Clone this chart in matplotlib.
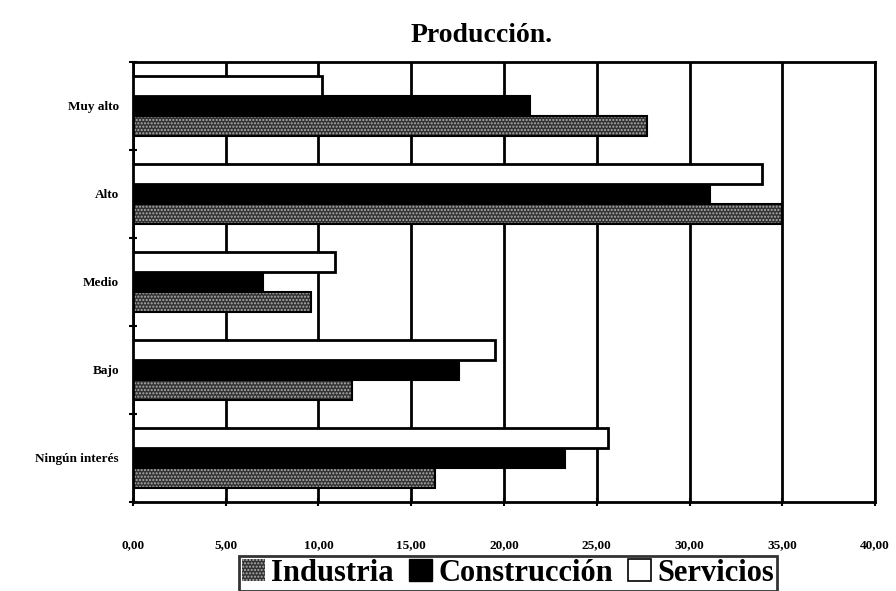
import matplotlib
matplotlib.use("Agg")
import matplotlib.pyplot as plt
import numpy as np
from matplotlib.patches import Patch

categories = ["Ningún interés", "Bajo", "Medio", "Alto", "Muy alto"]
industria = [16.3, 11.8, 9.6, 35.0, 27.7]
construccion = [23.3, 17.6, 7.0, 31.1, 21.4]
servicios = [25.6, 19.5, 10.9, 33.9, 10.2]
xticks = [0, 5, 10, 15, 20, 25, 30, 35, 40]
xticklabels = ["0,00", "5,00", "10,00", "15,00", "20,00", "25,00", "30,00", "35,00", "40,00"]

plt.rcParams['font.family'] = ['Liberation Serif', 'DejaVu Serif']
plt.rcParams['font.weight'] = 'bold'
plt.rcParams['hatch.linewidth'] = 1.0

fig = plt.figure(figsize=(8.96, 5.91), dpi=100)
ax = fig.add_axes([0.1484, 0.1506, 0.8282, 0.7445])

y = np.arange(len(categories))
h = 0.225
ax.set_axisbelow(True)
ax.grid(axis='x', color='black', linewidth=2)

ax.barh(y - h, industria, height=h, color='#333333', edgecolor='#b0b0b0', hatch='.....', linewidth=0, zorder=2)
ax.barh(y - h, industria, height=h, color='none', edgecolor='black', linewidth=1.5, zorder=3)
ax.barh(y, construccion, height=h, color='black', edgecolor='black', linewidth=1.5, zorder=3)
ax.barh(y + h, servicios, height=h, color='white', edgecolor='black', linewidth=2, zorder=3)

ax.set_xlim(0, 40)
ax.set_ylim(-0.5, len(categories) - 0.5)
ax.set_xticks(xticks)
ax.set_xticklabels(xticklabels, fontsize=9.5, fontweight='bold')
ax.set_yticks(y)
ax.set_yticklabels(categories, fontsize=9.5, fontweight='bold')
ax.tick_params(axis='y', which='major', length=0, pad=10)
ax.set_yticks(np.arange(len(categories) + 1) - 0.5, minor=True)
ax.tick_params(axis='y', which='minor', length=6, width=1.5, direction='inout')
ax.tick_params(axis='x', which='major', length=6, width=1.5, direction='inout', pad=24)
for s in ax.spines.values():
    s.set_linewidth(2)

fig.text(0.537, 0.94, "Producción.", ha='center', va='center', fontsize=20, fontweight='bold')

handles = [
    Patch(facecolor='#333333', edgecolor='#b0b0b0', hatch='.....', linewidth=0),
    Patch(facecolor='black', edgecolor='black'),
    Patch(facecolor='white', edgecolor='black', linewidth=1.2),
]
leg = fig.legend(handles, ["Industria", "Construcción", "Servicios"], loc='lower center',
                 bbox_to_anchor=(0.567, 0.0), ncol=3, frameon=True, fancybox=False,
                 edgecolor='black', prop={'family': 'Liberation Serif', 'weight': 'bold', 'size': 22},
                 handlelength=0.75, handleheight=0.75, handletextpad=0.2, columnspacing=0.5,
                 borderpad=0.1, borderaxespad=0)
leg.get_frame().set_linewidth(2)

fig.savefig("out.png", dpi=100)
